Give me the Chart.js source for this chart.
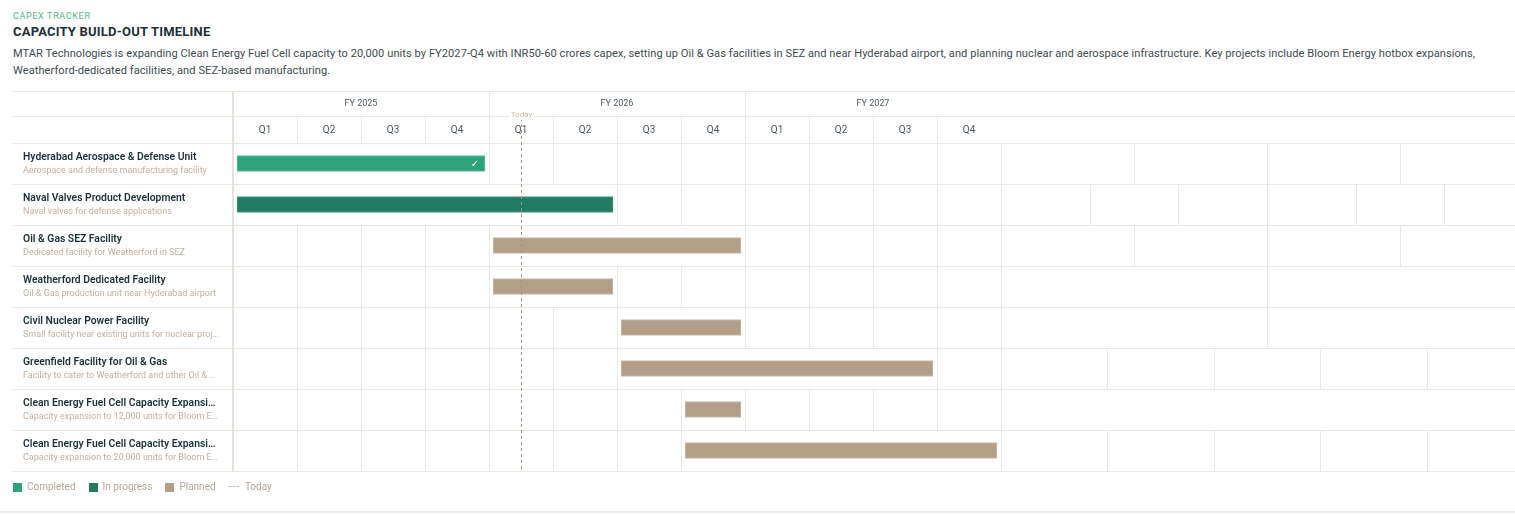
<!DOCTYPE html>
<html>
<head>
<meta charset="utf-8">
<script src="https://cdn.jsdelivr.net/npm/chart.js@4.4.1/dist/chart.umd.min.js"></script>
<style>
  html, body { margin: 0; padding: 0; background: #ffffff; width: 1515px; height: 514px; overflow: hidden; font-family: Roboto, "Noto Sans", sans-serif; }
  .abs { position: absolute; white-space: nowrap; }
  #kicker { left: 13px; top: 9px; font-size: 9px; letter-spacing: 0.65px; color: #4fb98c; line-height: 14px; }
  #title { left: 13px; top: 23px; font-size: 13px; font-weight: 700; letter-spacing: 0.2px; color: #1d3138; line-height: 18px; }
  #desc { left: 13px; top: 45px; width: 1480px; white-space: normal; font-size: 11.1px; letter-spacing: 0.05px; color: #3e4c51; line-height: 17px; }
  #chartWrap { position: absolute; left: 0; top: 85px; width: 1515px; height: 400px; }
  #legend { left: 13px; top: 480px; font-size: 10px; color: #b8a898; line-height: 14px; display: flex; align-items: center; }
  #legend .sw { display: inline-block; width: 9px; height: 9px; margin-right: 5px; }
  #legend .item { display: inline-flex; align-items: center; margin-right: 13px; }
  #bottomLine { position: absolute; left: 0; top: 511px; width: 1515px; height: 2px; background: #ecebe6; }
</style>
</head>
<body>
<div id="kicker" class="abs">CAPEX TRACKER</div>
<div id="title" class="abs">CAPACITY BUILD-OUT TIMELINE</div>
<div id="desc" class="abs">MTAR Technologies is expanding Clean Energy Fuel Cell capacity to 20,000 units by FY2027-Q4 with INR50-60 crores capex, setting up Oil &amp; Gas facilities in SEZ and near Hyderabad airport, and planning nuclear and aerospace infrastructure. Key projects include Bloom Energy hotbox expansions, Weatherford-dedicated facilities, and SEZ-based manufacturing.</div>
<div id="chartWrap"><canvas id="c"></canvas></div>
<div id="legend" class="abs"></div>
<div id="bottomLine"></div>
<script>
// ---------- DATA ----------
const projectNames = [
  'Hyderabad Aerospace & Defense Unit',
  'Naval Valves Product Development',
  'Oil & Gas SEZ Facility',
  'Weatherford Dedicated Facility',
  'Civil Nuclear Power Facility',
  'Greenfield Facility for Oil & Gas',
  'Clean Energy Fuel Cell Capacity Expansi\u2026',
  'Clean Energy Fuel Cell Capacity Expansi\u2026'
];
const projectNotes = [
  'Aerospace and defense manufacturing facility',
  'Naval valves for defense applications',
  'Dedicated facility for Weatherford in SEZ',
  'Oil & Gas production unit near Hyderabad airport',
  'Small facility near existing units for nuclear proj\u2026',
  'Facility to cater to Weatherford and other Oil & \u2026',
  'Capacity expansion to 12,000 units for Bloom E\u2026',
  'Capacity expansion to 20,000 units for Bloom E\u2026'
];
// quarter index: 0 = FY2025 Q1 start
const startQuarter = [0, 0, 4, 4, 6, 6, 7, 7];
const endQuarter   = [4, 6, 8, 6, 8, 11, 8, 12];
const projectStatus = ['Completed', 'In progress', 'Planned', 'Planned', 'Planned', 'Planned', 'Planned', 'Planned'];
const fiscalYears = ['FY 2025', 'FY 2026', 'FY 2027'];
const quarterLabels = ['Q1', 'Q2', 'Q3', 'Q4'];
const todayQuarter = 4.5;
const statusNames = ['Completed', 'In progress', 'Planned'];

// ---------- STYLE ----------
const statusFill = { 'Completed': '#2ea27a', 'In progress': '#217b62', 'Planned': '#b39e8a' };
const statusBorder = { 'Completed': '#5cc29a', 'In progress': '#4a9a84', 'Planned': '#cbbdaf' };
const GRID = '#ebe8e2';
const FONT = 'Roboto, "Noto Sans", sans-serif';
const QUARTER_COUNT = fiscalYears.length * quarterLabels.length;
const EXTRA_SPAN = 8.3125; // trailing table area, in quarters
const AXIS_MAX = 20;

// legend
const legendEl = document.getElementById('legend');
statusNames.forEach(s => {
  const it = document.createElement('span');
  it.className = 'item';
  it.innerHTML = '<span class="sw" style="background:' + statusFill[s] + '"></span>' + s;
  legendEl.appendChild(it);
});
const tIt = document.createElement('span');
tIt.className = 'item';
tIt.innerHTML = '<span style="letter-spacing:1px;margin-right:5px">---</span>Today';
legendEl.appendChild(tIt);

const canvasTop = 85;
const tableTop = 91 - canvasTop;
const qRowTop = 116 - canvasTop;
const leftEdge = 13;

function hline(ctx, x1, x2, y, color, w) {
  ctx.strokeStyle = color; ctx.lineWidth = w || 1;
  ctx.beginPath(); ctx.moveTo(x1, Math.round(y) + 0.5); ctx.lineTo(x2, Math.round(y) + 0.5); ctx.stroke();
}
function vline(ctx, x, y1, y2, color, w) {
  ctx.strokeStyle = color; ctx.lineWidth = w || 1;
  const xx = (w === 2) ? Math.round(x) : Math.round(x) + 0.5;
  ctx.beginPath(); ctx.moveTo(xx, y1); ctx.lineTo(xx, y2); ctx.stroke();
}

const ganttPlugin = {
  id: 'gantt',
  afterDatasetsUpdate(chart) {
    const meta = chart.getDatasetMeta(0);
    meta.data.forEach(el => { el.x -= 4; el.base += 4; });
  },
  beforeDatasetsDraw(chart) {
    const { ctx, chartArea, scales: { x, y } } = chart;
    const W = chart.width;
    const rowH = y.getPixelForValue(1) - y.getPixelForValue(0);
    ctx.save();
    hline(ctx, leftEdge, W, tableTop, GRID);
    hline(ctx, leftEdge, W, qRowTop, GRID);
    for (let i = 0; i <= projectNames.length; i++) {
      hline(ctx, leftEdge, W, chartArea.top + i * rowH, GRID);
    }
    vline(ctx, x.getPixelForValue(0), tableTop, chartArea.bottom, '#e6e2da', 2);
    // FY header
    const qW = x.getPixelForValue(1) - x.getPixelForValue(0);
    for (let f = 0; f < fiscalYears.length; f++) {
      const q0 = f * quarterLabels.length;
      if (f > 0) vline(ctx, x.getPixelForValue(q0), tableTop, qRowTop, GRID);
      const x1 = x.getPixelForValue(q0);
      const x2 = x1 + quarterLabels.length * qW;
      ctx.fillStyle = '#4d5b60';
      ctx.font = '9px ' + FONT;
      ctx.textAlign = 'center'; ctx.textBaseline = 'middle';
      ctx.fillText(fiscalYears[f], (x1 + x2) / 2, (tableTop + qRowTop) / 2 + 0.5);
    }
    // Quarter header
    for (let q = 0; q < QUARTER_COUNT; q++) {
      if (q > 0) vline(ctx, x.getPixelForValue(q), qRowTop, chartArea.top, GRID);
      ctx.fillStyle = '#4d5b60';
      ctx.font = '10px ' + FONT;
      ctx.textAlign = 'center'; ctx.textBaseline = 'middle';
      ctx.fillText(quarterLabels[q % 4], x.getPixelForValue(q + 0.5), (qRowTop + chartArea.top) / 2 + 0.5);
    }
    // rows
    for (let i = 0; i < projectNames.length; i++) {
      const top = chartArea.top + i * rowH, bot = top + rowH;
      const s = startQuarter[i], e = endQuarter[i], dur = e - s;
      for (let q = 1; q <= QUARTER_COUNT; q++) {
        if (q > s && q < e) continue;
        vline(ctx, x.getPixelForValue(q), top, bot, GRID);
      }
      for (let k = 1; k < dur; k++) {
        vline(ctx, x.getPixelForValue(QUARTER_COUNT + k * EXTRA_SPAN / dur), top, bot, GRID);
      }
      ctx.textAlign = 'left'; ctx.textBaseline = 'middle';
      ctx.fillStyle = '#1d3138';
      ctx.font = '600 10.35px ' + FONT;
      ctx.fillText(projectNames[i], 23, top + 14.5);
      ctx.fillStyle = '#c3b1a0';
      ctx.font = '9px ' + FONT;
      ctx.fillText(projectNotes[i], 23, top + 27.5);
    }
    ctx.restore();
  },
  afterDatasetsDraw(chart) {
    const { ctx, chartArea, scales: { x } } = chart;
    ctx.save();
    const meta = chart.getDatasetMeta(0);
    meta.data.forEach((el, i) => {
      if (projectStatus[i] === 'Completed') {
        ctx.fillStyle = '#ffffff';
        ctx.font = '10px "DejaVu Sans", sans-serif';
        ctx.textAlign = 'center'; ctx.textBaseline = 'middle';
        ctx.fillText('\u2713', el.x - 10, el.y + 0.5);
      }
    });
    const tx = Math.round(x.getPixelForValue(todayQuarter)) + 0.5;
    ctx.strokeStyle = '#a8917c';
    ctx.lineWidth = 1;
    ctx.setLineDash([3, 3]);
    ctx.beginPath(); ctx.moveTo(tx, qRowTop + 2); ctx.lineTo(tx, chartArea.bottom); ctx.stroke();
    ctx.setLineDash([]);
    ctx.font = '8px ' + FONT;
    const tw = ctx.measureText('Today').width;
    ctx.fillStyle = '#ffffff';
    ctx.fillRect(tx - tw / 2 - 2, qRowTop - 6, tw + 4, 10);
    ctx.fillStyle = '#c9b9a9';
    ctx.textAlign = 'center'; ctx.textBaseline = 'middle';
    ctx.fillText('Today', tx, qRowTop - 1);
    ctx.restore();
  }
};

const barData = startQuarter.map((s, i) => [s, endQuarter[i]]);

new Chart(document.getElementById('c'), {
  type: 'bar',
  data: {
    labels: projectNames,
    datasets: [{
      label: 'Timeline',
      data: barData,
      backgroundColor: projectStatus.map(s => statusFill[s]),
      borderColor: projectStatus.map(s => statusBorder[s]),
      borderWidth: 1,
      borderSkipped: false,
      barThickness: 16
    }]
  },
  options: {
    indexAxis: 'y',
    responsive: true,
    maintainAspectRatio: false,
    animation: false,
    events: [],
    layout: { padding: { left: 233, right: 2, top: 143 - canvasTop, bottom: 400 - (471 - canvasTop) } },
    plugins: { legend: { display: false }, tooltip: { enabled: false } },
    scales: {
      x: { type: 'linear', min: 0, max: AXIS_MAX, display: false },
      y: { type: 'category', display: false, offset: true }
    }
  },
  plugins: [ganttPlugin]
});
</script>
</body>
</html>
